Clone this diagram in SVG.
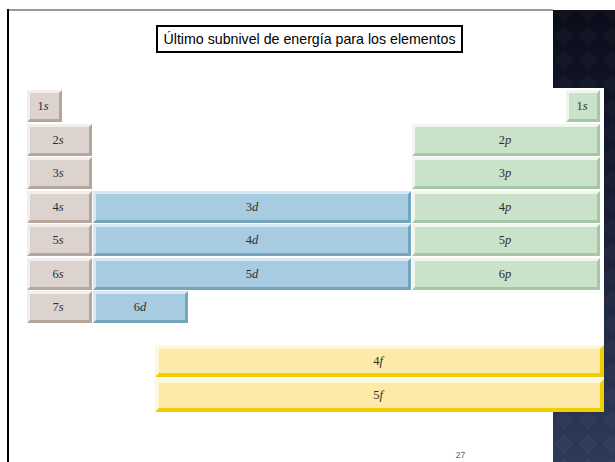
<svg xmlns="http://www.w3.org/2000/svg" width="615" height="462" viewBox="0 0 615 462">
  <defs>
    <linearGradient id="panelShade" x1="0" y1="0" x2="0" y2="1">
      <stop offset="0" stop-color="#0a0d1a"/>
      <stop offset="0.45" stop-color="#171d33"/>
      <stop offset="1" stop-color="#2e3a5a"/>
    </linearGradient>
    <pattern id="diamonds" width="24" height="24" patternUnits="userSpaceOnUse">
      <polygon points="12,1 23,12 12,23 1,12" fill="#ffffff" fill-opacity="0.025" stroke="#000000" stroke-opacity="0.1" stroke-width="1"/>
    </pattern>
    <style>
      .lbl { font-family: "Liberation Serif", "Times New Roman", serif; font-size: 12.5px; fill: #2e2e2e; text-anchor: middle; }
      .it { font-style: italic; }
      .s .dk { fill: #b6a59a; } .s .lt { fill: #f2eeeb; } .s .fc { fill: #dcd3ce; }
      .p .dk { fill: #a6c7a6; } .p .lt { fill: #eef6ee; } .p .fc { fill: #c9e2c9; }
      .d .dk { fill: #74a5bd; } .d .lt { fill: #d6e9f3; } .d .fc { fill: #a7cbe0; }
      .f .dk { fill: #f2cd00; } .f .lt { fill: #fff8d8; } .f .fc { fill: #fdeaa8; }
    </style>
  </defs>

  <!-- slide background -->
  <rect x="0" y="0" width="615" height="462" fill="#ffffff"/>
  <rect x="553" y="10" width="62" height="452" fill="url(#panelShade)"/>
  <rect x="553" y="10" width="62" height="452" fill="url(#diamonds)"/>
  <line x1="7" y1="10" x2="553" y2="10" stroke="#9a9a9a" stroke-width="2"/>
  <line x1="8" y1="9" x2="8" y2="462" stroke="#000000" stroke-width="2"/>

  <!-- title -->
  <g id="title">
    <rect x="157" y="26" width="305" height="26" fill="#ffffff" stroke="#000000" stroke-width="2"/>
    <text x="309.5" y="44" font-family="'Liberation Sans', Arial, sans-serif" font-size="14.5" text-anchor="middle" textLength="292" lengthAdjust="spacingAndGlyphs" fill="#000000">Último subnivel de energía para los elementos</text>
  </g>

  <!-- table backdrop -->
  <rect x="20" y="88" width="584" height="324" fill="#ffffff"/>

  <!-- s block -->
  <g id="s1" class="s">
    <rect class="dk" x="27" y="90" width="35" height="32"/>
    <polygon class="lt" points="27,90 62,90 59,93 30,93 30,119 27,122"/>
    <rect class="fc" x="30" y="93" width="29" height="26"/>
    <text class="lbl" x="43" y="110">1<tspan class="it">s</tspan></text>
  </g>
  <g id="s2" class="s">
    <rect class="dk" x="27" y="124" width="65" height="32"/>
    <polygon class="lt" points="27,124 92,124 89,127 30,127 30,153 27,156"/>
    <rect class="fc" x="30" y="127" width="59" height="26"/>
    <text class="lbl" x="58" y="144">2<tspan class="it">s</tspan></text>
  </g>
  <g id="s3" class="s">
    <rect class="dk" x="27" y="157" width="65" height="32"/>
    <polygon class="lt" points="27,157 92,157 89,160 30,160 30,186 27,189"/>
    <rect class="fc" x="30" y="160" width="59" height="26"/>
    <text class="lbl" x="58" y="177">3<tspan class="it">s</tspan></text>
  </g>
  <g id="s4" class="s">
    <rect class="dk" x="27" y="191" width="65" height="32"/>
    <polygon class="lt" points="27,191 92,191 89,194 30,194 30,220 27,223"/>
    <rect class="fc" x="30" y="194" width="59" height="26"/>
    <text class="lbl" x="58" y="211">4<tspan class="it">s</tspan></text>
  </g>
  <g id="s5" class="s">
    <rect class="dk" x="27" y="224" width="65" height="32"/>
    <polygon class="lt" points="27,224 92,224 89,227 30,227 30,253 27,256"/>
    <rect class="fc" x="30" y="227" width="59" height="26"/>
    <text class="lbl" x="58" y="244">5<tspan class="it">s</tspan></text>
  </g>
  <g id="s6" class="s">
    <rect class="dk" x="27" y="258" width="65" height="32"/>
    <polygon class="lt" points="27,258 92,258 89,261 30,261 30,287 27,290"/>
    <rect class="fc" x="30" y="261" width="59" height="26"/>
    <text class="lbl" x="58" y="278">6<tspan class="it">s</tspan></text>
  </g>
  <g id="s7" class="s">
    <rect class="dk" x="27" y="291" width="65" height="32"/>
    <polygon class="lt" points="27,291 92,291 89,294 30,294 30,320 27,323"/>
    <rect class="fc" x="30" y="294" width="59" height="26"/>
    <text class="lbl" x="58" y="311">7<tspan class="it">s</tspan></text>
  </g>

  <!-- d block -->
  <g id="d3" class="d">
    <rect class="dk" x="93" y="191" width="318" height="32"/>
    <polygon class="lt" points="93,191 411,191 408,194 96,194 96,220 93,223"/>
    <rect class="fc" x="96" y="194" width="312" height="26"/>
    <text class="lbl" x="252" y="211">3<tspan class="it">d</tspan></text>
  </g>
  <g id="d4" class="d">
    <rect class="dk" x="93" y="224" width="318" height="32"/>
    <polygon class="lt" points="93,224 411,224 408,227 96,227 96,253 93,256"/>
    <rect class="fc" x="96" y="227" width="312" height="26"/>
    <text class="lbl" x="252" y="244">4<tspan class="it">d</tspan></text>
  </g>
  <g id="d5" class="d">
    <rect class="dk" x="93" y="258" width="318" height="32"/>
    <polygon class="lt" points="93,258 411,258 408,261 96,261 96,287 93,290"/>
    <rect class="fc" x="96" y="261" width="312" height="26"/>
    <text class="lbl" x="252" y="278">5<tspan class="it">d</tspan></text>
  </g>
  <g id="d6" class="d">
    <rect class="dk" x="93" y="291" width="95" height="32"/>
    <polygon class="lt" points="93,291 188,291 185,294 96,294 96,320 93,323"/>
    <rect class="fc" x="96" y="294" width="89" height="26"/>
    <text class="lbl" x="140" y="311">6<tspan class="it">d</tspan></text>
  </g>

  <!-- p block -->
  <g id="s1b" class="p">
    <rect class="dk" x="566" y="90" width="34" height="32"/>
    <polygon class="lt" points="566,90 600,90 597,93 569,93 569,119 566,122"/>
    <rect class="fc" x="569" y="93" width="28" height="26"/>
    <text class="lbl" x="582" y="110">1<tspan class="it">s</tspan></text>
  </g>
  <g id="p2" class="p">
    <rect class="dk" x="412" y="124" width="188" height="32"/>
    <polygon class="lt" points="412,124 600,124 597,127 415,127 415,153 412,156"/>
    <rect class="fc" x="415" y="127" width="182" height="26"/>
    <text class="lbl" x="505" y="144">2<tspan class="it">p</tspan></text>
  </g>
  <g id="p3" class="p">
    <rect class="dk" x="412" y="157" width="188" height="32"/>
    <polygon class="lt" points="412,157 600,157 597,160 415,160 415,186 412,189"/>
    <rect class="fc" x="415" y="160" width="182" height="26"/>
    <text class="lbl" x="505" y="177">3<tspan class="it">p</tspan></text>
  </g>
  <g id="p4" class="p">
    <rect class="dk" x="412" y="191" width="188" height="32"/>
    <polygon class="lt" points="412,191 600,191 597,194 415,194 415,220 412,223"/>
    <rect class="fc" x="415" y="194" width="182" height="26"/>
    <text class="lbl" x="505" y="211">4<tspan class="it">p</tspan></text>
  </g>
  <g id="p5" class="p">
    <rect class="dk" x="412" y="224" width="188" height="32"/>
    <polygon class="lt" points="412,224 600,224 597,227 415,227 415,253 412,256"/>
    <rect class="fc" x="415" y="227" width="182" height="26"/>
    <text class="lbl" x="505" y="244">5<tspan class="it">p</tspan></text>
  </g>
  <g id="p6" class="p">
    <rect class="dk" x="412" y="258" width="188" height="32"/>
    <polygon class="lt" points="412,258 600,258 597,261 415,261 415,287 412,290"/>
    <rect class="fc" x="415" y="261" width="182" height="26"/>
    <text class="lbl" x="505" y="278">6<tspan class="it">p</tspan></text>
  </g>

  <!-- f block -->
  <g id="f4" class="f">
    <rect class="dk" x="155" y="345" width="449" height="32"/>
    <polygon class="lt" points="155,345 604,345 600,349 159,349 159,373 155,377"/>
    <rect class="fc" x="159" y="349" width="441" height="24"/>
    <text class="lbl" x="378" y="365">4<tspan class="it">f</tspan></text>
  </g>
  <g id="f5" class="f">
    <rect class="dk" x="155" y="379" width="449" height="33"/>
    <polygon class="lt" points="155,379 604,379 600,383 159,383 159,408 155,412"/>
    <rect class="fc" x="159" y="383" width="441" height="25"/>
    <text class="lbl" x="378" y="399">5<tspan class="it">f</tspan></text>
  </g>

  <!-- slide number -->
  <text x="460.5" y="458" font-family="'Liberation Sans', Arial, sans-serif" font-size="8.5" text-anchor="middle" fill="#4a5f8c">27</text>
</svg>
